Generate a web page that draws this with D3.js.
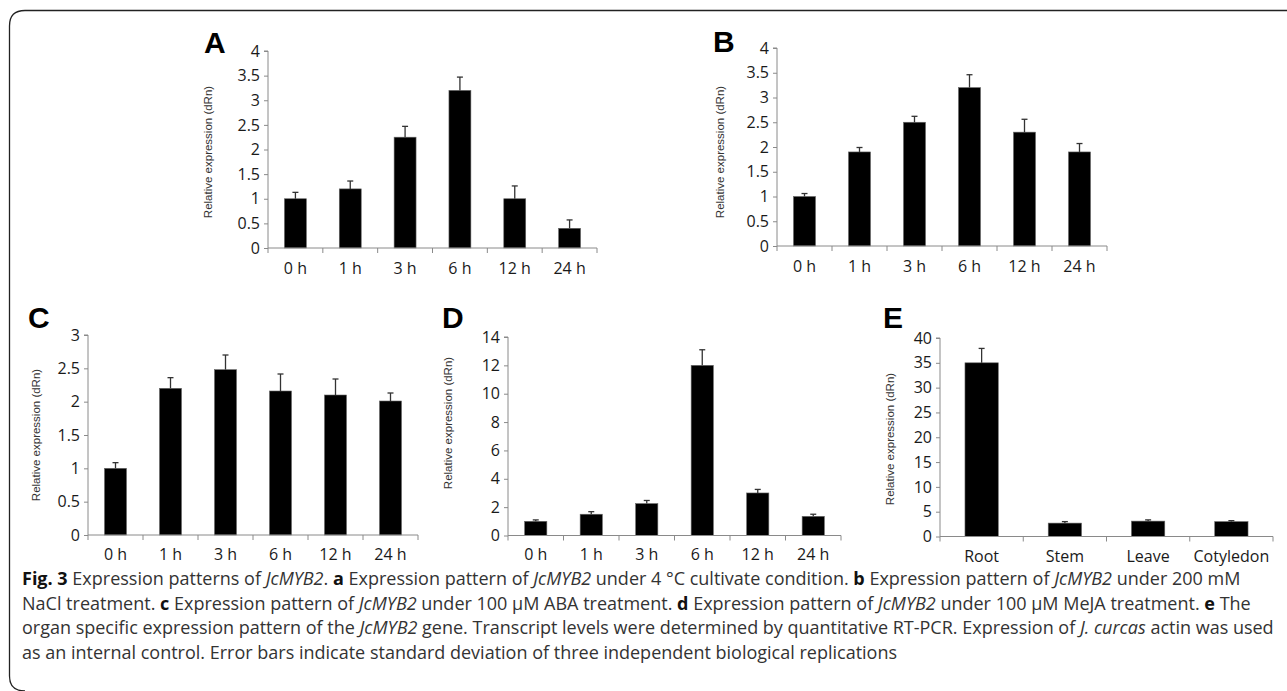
<!DOCTYPE html>
<html>
<head>
<meta charset="utf-8">
<script src="https://cdn.jsdelivr.net/npm/d3@7"></script>
<style>
  body { margin: 0; background: #fff; }
  svg { display: block; }
</style>
</head>
<body>
<div id="fig"></div>
<script>
// data
var timeLabels = ["0 h", "1 h", "3 h", "6 h", "12 h", "24 h"];
var organLabels = ["Root", "Stem", "Leave", "Cotyledon"];

var valuesA = [1.0, 1.2, 2.25, 3.2, 1.0, 0.4];
var errorsA = [0.13, 0.16, 0.22, 0.27, 0.26, 0.17];

var valuesB = [1.0, 1.9, 2.5, 3.2, 2.3, 1.9];
var errorsB = [0.06, 0.09, 0.12, 0.26, 0.26, 0.17];

var valuesC = [1.0, 2.2, 2.48, 2.16, 2.1, 2.01];
var errorsC = [0.085, 0.16, 0.22, 0.255, 0.24, 0.12];

var valuesD = [1.0, 1.5, 2.25, 12.0, 3.0, 1.35];
var errorsD = [0.1, 0.18, 0.22, 1.1, 0.25, 0.15];

var valuesE = [35.0, 2.7, 3.1, 3.0];
var errorsE = [2.9, 0.3, 0.25, 0.2];

var ticksAB = [0, 0.5, 1, 1.5, 2, 2.5, 3, 3.5, 4];
var ticksC = [0, 0.5, 1, 1.5, 2, 2.5, 3];
var ticksD = [0, 2, 4, 6, 8, 10, 12, 14];
var ticksE = [0, 5, 10, 15, 20, 25, 30, 35, 40];

var yTitle = "Relative expression (dRn)";

var svgWidth = 1287;
var svgHeight = 691;

var svg = d3.select("#fig")
  .append("svg")
  .attr("width", svgWidth)
  .attr("height", svgHeight);

// frame around the figure (open on the right)
svg.append("path")
  .attr("d", "M1287,10.5 H25 Q9.5,10.5 9.5,26 V676 Q9.5,691 25,691")
  .attr("fill", "none")
  .attr("stroke", "#222")
  .attr("stroke-width", 1.3);

var panels = [
  { letter: "A", cats: timeLabels, vals: valuesA, errs: errorsA, ticks: ticksAB,
    x0: 268, x1: 597, yTop: 51, yBot: 248, lx: 204, ly: 53, tx: 208, ty: 152, labY: 274 },
  { letter: "B", cats: timeLabels, vals: valuesB, errs: errorsB, ticks: ticksAB,
    x0: 777, x1: 1107, yTop: 48, yBot: 246, lx: 713, ly: 52, tx: 720, ty: 152, labY: 272 },
  { letter: "C", cats: timeLabels, vals: valuesC, errs: errorsC, ticks: ticksC,
    x0: 88, x1: 418, yTop: 335, yBot: 535, lx: 28, ly: 328, tx: 36, ty: 435, labY: 560 },
  { letter: "D", cats: timeLabels, vals: valuesD, errs: errorsD, ticks: ticksD,
    x0: 508, x1: 841, yTop: 337, yBot: 535.5, lx: 442, ly: 328, tx: 448, ty: 423, labY: 560 },
  { letter: "E", cats: organLabels, vals: valuesE, errs: errorsE, ticks: ticksE,
    x0: 940, x1: 1273, yTop: 338, yBot: 536.5, lx: 883, ly: 328, tx: 890, ty: 439, labY: 562 }
];

panels.forEach(function (p) {
  var g = svg.append("g");

  var x = d3.scaleBand()
    .domain(p.cats)
    .range([p.x0, p.x1])
    .paddingInner(0.6)
    .paddingOuter(0.3);

  var y = d3.scaleLinear()
    .domain([0, d3.max(p.ticks)])
    .range([p.yBot, p.yTop]);

  // y axis
  var yAxis = d3.axisLeft(y)
    .tickValues(p.ticks)
    .tickSize(4)
    .tickPadding(4)
    .tickFormat(d3.format("~g"));

  var ya = g.append("g")
    .attr("transform", `translate(${p.x0}, 0)`)
    .call(yAxis);
  ya.select(".domain").attr("stroke", "#8a8a8a").attr("d", `M-4,${p.yTop}H0V${p.yBot}`);
  ya.selectAll(".tick line").attr("stroke", "#8a8a8a");
  ya.selectAll(".tick text")
    .attr("fill", "#1a1a1a")
    .style("font-family", "'Open Sans', sans-serif")
    .style("font-size", "16px");

  // bars
  g.selectAll(".bar")
    .data(p.vals)
    .enter()
    .append("rect")
    .attr("x", (d, i) => x(p.cats[i]))
    .attr("y", d => y(d))
    .attr("width", x.bandwidth())
    .attr("height", d => y(0) - y(d))
    .attr("fill", "#000")
    .attr("stroke", "#666")
    .attr("stroke-width", 0.6);

  // error bars (upper half only)
  var eb = g.selectAll(".err")
    .data(p.vals)
    .enter()
    .append("g")
    .attr("stroke", "#333")
    .attr("stroke-width", 1.3);
  eb.append("line")
    .attr("x1", (d, i) => x(p.cats[i]) + x.bandwidth() / 2)
    .attr("x2", (d, i) => x(p.cats[i]) + x.bandwidth() / 2)
    .attr("y1", d => y(d))
    .attr("y2", (d, i) => y(d + p.errs[i]));
  eb.append("line")
    .attr("x1", (d, i) => x(p.cats[i]) + x.bandwidth() / 2 - 3)
    .attr("x2", (d, i) => x(p.cats[i]) + x.bandwidth() / 2 + 3)
    .attr("y1", (d, i) => y(d + p.errs[i]))
    .attr("y2", (d, i) => y(d + p.errs[i]));

  // x axis: ticks sit on category boundaries
  g.append("line")
    .attr("x1", p.x0).attr("x2", p.x1)
    .attr("y1", y(0)).attr("y2", y(0))
    .attr("stroke", "#8a8a8a");
  d3.range(p.cats.length + 1).forEach(function (i) {
    var bx = p.x0 + i * x.step();
    g.append("line")
      .attr("x1", bx).attr("x2", bx)
      .attr("y1", y(0)).attr("y2", y(0) + 5)
      .attr("stroke", "#8a8a8a");
  });
  g.selectAll(".xlab")
    .data(p.cats)
    .enter()
    .append("text")
    .attr("x", d => x(d) + x.bandwidth() / 2)
    .attr("y", p.labY)
    .attr("text-anchor", "middle")
    .attr("fill", "#1a1a1a")
    .style("font-family", "'Open Sans', sans-serif")
    .style("font-size", "16px")
    .text(d => d);

  // axis title
  g.append("text")
    .attr("transform", `translate(${p.tx}, ${p.ty}) rotate(-90)`)
    .attr("text-anchor", "middle")
    .attr("dy", "0.35em")
    .attr("fill", "#333")
    .style("font-family", "'Liberation Sans', Arial, sans-serif")
    .style("font-size", "11.5px")
    .text(yTitle);

  // panel letter
  g.append("text")
    .attr("x", p.lx)
    .attr("y", p.ly)
    .attr("fill", "#000")
    .style("font-family", "'Liberation Sans', Arial, sans-serif")
    .style("font-weight", "bold")
    .style("font-size", "30px")
    .text(p.letter);
});

// caption, each line is a list of [text, style] runs
var captionLines = [
  [["Fig. 3", "b"], [" Expression patterns of ", ""], ["JcMYB2", "i"], [". ", ""], ["a", "b"],
   [" Expression pattern of ", ""], ["JcMYB2", "i"], [" under 4 °C cultivate condition. ", ""], ["b", "b"],
   [" Expression pattern of ", ""], ["JcMYB2", "i"], [" under 200 mM", ""]],
  [["NaCl treatment. ", ""], ["c", "b"], [" Expression pattern of ", ""], ["JcMYB2", "i"],
   [" under 100 μM ABA treatment. ", ""], ["d", "b"], [" Expression pattern of ", ""], ["JcMYB2", "i"],
   [" under 100 μM MeJA treatment. ", ""], ["e", "b"], [" The", ""]],
  [["organ specific expression pattern of the ", ""], ["JcMYB2", "i"],
   [" gene. Transcript levels were determined by quantitative RT-PCR. Expression of ", ""],
   ["J. curcas", "i"], [" actin was used", ""]],
  [["as an internal control. Error bars indicate standard deviation of three independent biological replications", ""]]
];

var caption = svg.append("g")
  .style("font-family", "'Open Sans', sans-serif")
  .style("font-size", "18px")
  .attr("fill", "#333");

captionLines.forEach(function (runs, li) {
  var t = caption.append("text")
    .attr("x", 22)
    .attr("y", 585 + li * 24.5)
    .attr("xml:space", "preserve");
  runs.forEach(function (r) {
    t.append("tspan")
      .attr("font-weight", r[1] === "b" ? "bold" : null)
      .attr("font-style", r[1] === "i" ? "italic" : null)
      .attr("fill", r[1] === "b" ? "#111" : null)
      .text(r[0]);
  });
});
</script>
</body>
</html>
